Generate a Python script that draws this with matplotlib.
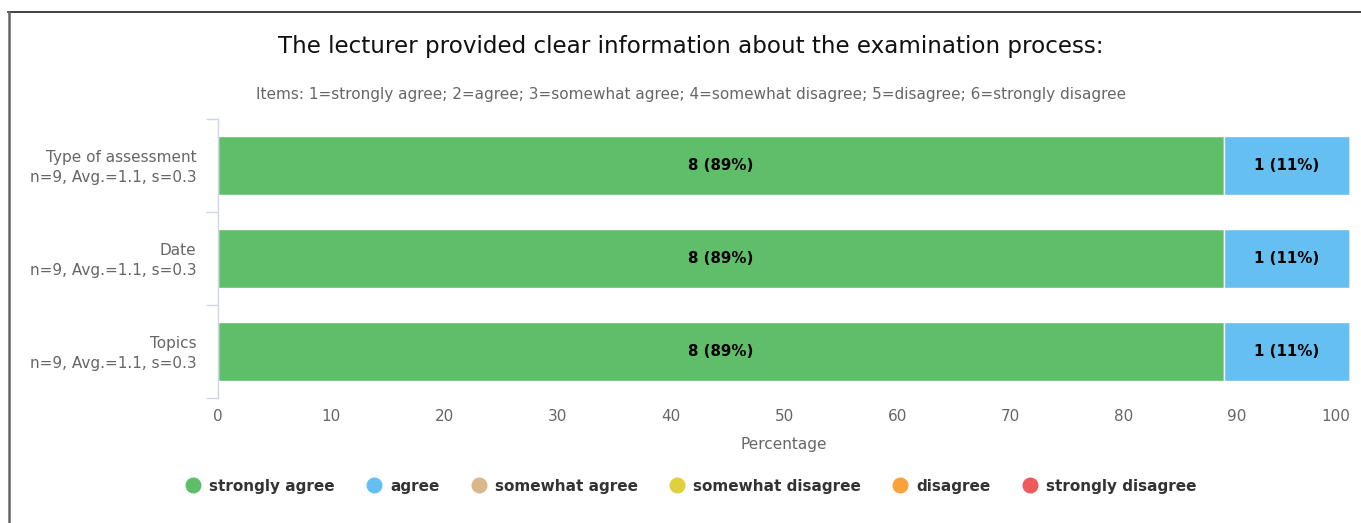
import matplotlib
matplotlib.use("Agg")
import matplotlib.pyplot as plt
from matplotlib.lines import Line2D
import matplotlib.transforms as mtransforms
import numpy as np

categories = ["Type of assessment", "Date", "Topics"]
stats = ["n=9, Avg.=1.1, s=0.3", "n=9, Avg.=1.1, s=0.3", "n=9, Avg.=1.1, s=0.3"]
series_names = ["strongly agree", "agree", "somewhat agree",
                "somewhat disagree", "disagree", "strongly disagree"]
series_colors = ["#5fbe69", "#65bff0", "#d8b88a", "#dfd03d", "#f9a13a", "#ee5a5a"]
counts = {
    "strongly agree": [8, 8, 8],
    "agree": [1, 1, 1],
    "somewhat agree": [0, 0, 0],
    "somewhat disagree": [0, 0, 0],
    "disagree": [0, 0, 0],
    "strongly disagree": [0, 0, 0],
}
x_ticks = [0, 10, 20, 30, 40, 50, 60, 70, 80, 90, 100]

W, H = 1361, 523
fig = plt.figure(figsize=(W / 100, H / 100), dpi=100)
fig.patch.set_facecolor("white")

# border lines (top and left)
fig.add_artist(Line2D([8 / W, 1], [1 - 12 / H, 1 - 12 / H], color="#222222", lw=1.2,
                      transform=fig.transFigure))
fig.add_artist(Line2D([8.5 / W, 8.5 / W], [0, 1 - 12 / H], color="#666666", lw=1.8,
                      transform=fig.transFigure))

ax = fig.add_axes([218 / W, 1 - 398 / H, (1350 - 218) / W, (398 - 119) / H])

n_rows = len(categories)
ypos = np.arange(n_rows)
totals = np.sum([counts[s] for s in series_names], axis=0)
left = np.zeros(n_rows)
for name, col in zip(series_names, series_colors):
    c = np.array(counts[name], dtype=float)
    pct = c / totals * 100
    ax.barh(ypos, pct, left=left, height=0.63, color=col, edgecolor="white",
            linewidth=1)
    for i in range(n_rows):
        if c[i] > 0:
            ax.text(left[i] + pct[i] / 2, ypos[i], f"{int(c[i])} ({pct[i]:.0f}%)",
                    ha="center", va="center", fontsize=10.8, fontweight="bold",
                    color="black")
    left += pct

ax.set_xlim(0, 100)
ax.set_ylim(n_rows - 0.5, -0.5)
ax.set_xticks(x_ticks)
ax.set_xticklabels([str(t) for t in x_ticks], fontsize=11, color="#666666")
ax.tick_params(axis="x", length=0, pad=8)
ax.get_xticklabels()[-1].set_ha("right")

ax.set_yticks(ypos)
ax.set_yticklabels([f"{c}\n{s}" for c, s in zip(categories, stats)], fontsize=11,
                   color="#666666", ha="right", linespacing=1.45)
ax.tick_params(axis="y", length=0, pad=15.5)
shift = mtransforms.ScaledTranslation(0, 2 / 100, fig.dpi_scale_trans)
for lbl in ax.get_yticklabels():
    lbl.set_transform(lbl.get_transform() + shift)
# boundary ticks
ax.set_yticks(np.arange(-0.5, n_rows + 0.5, 1), minor=True)
ax.tick_params(axis="y", which="minor", length=8.6, color="#ccd6eb", width=1)

for sp in ["top", "right", "bottom"]:
    ax.spines[sp].set_visible(False)
ax.spines["left"].set_color("#ccd6eb")
ax.spines["left"].set_linewidth(1)

ax.set_xlabel("Percentage", fontsize=11, color="#666666", labelpad=9)

fig.text(691 / W, 1 - 46 / H, "The lecturer provided clear information about the examination process:",
         ha="center", va="center", fontsize=16.6, color="#111111")
fig.text(691 / W, 1 - 94 / H,
         "Items: 1=strongly agree; 2=agree; 3=somewhat agree; 4=somewhat disagree; 5=disagree; 6=strongly disagree",
         ha="center", va="center", fontsize=11, color="#666666")

handles = [Line2D([0], [0], marker="o", linestyle="none", markersize=10.5,
                  markerfacecolor=c, markeredgecolor=c) for c in series_colors]
leg = fig.legend(handles, series_names, loc="center", bbox_to_anchor=(691 / W, 1 - 486 / H),
                 ncol=6, frameon=False, handletextpad=0.55, columnspacing=2.07,
                 handlelength=1.0, prop={"weight": "bold", "size": 11})
for t in leg.get_texts():
    t.set_color("#333333")

fig.savefig("out.png", dpi=100)
